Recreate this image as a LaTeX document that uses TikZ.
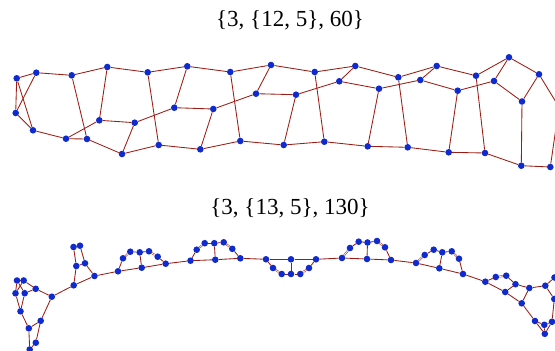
\documentclass[tikz,border=0pt]{standalone}
\usepackage{fontspec}
\setmainfont{Liberation Serif}
\usetikzlibrary{backgrounds}
\definecolor{ecol}{RGB}{155,28,18}
\definecolor{vcol}{RGB}{15,42,205}
\tikzset{
  v/.style={circle,fill=vcol,draw=none,inner sep=0pt,minimum size=6.6pt},
  e/.style={draw=ecol,line width=0.85pt},
  ee/.style={draw=ecol,line width=0.5pt,double=white,double distance=0.8pt},
  ttl/.style={font=\fontsize{23}{27}\selectfont,inner sep=0pt}
}
\begin{document}
\begin{tikzpicture}[x=1pt,y=-1pt]
\useasboundingbox (0,0) rectangle (555,351);
\clip (0,0) rectangle (555,351);
\node[ttl] (t1) at (290,20) {\{3, \{12, 5\}, 60\}};
\node[ttl] (t2) at (290,208) {\{3, \{13, 5\}, 130\}};
% top graph
\foreach \n/\x/\y in {A1/16.7/78.3,A2/36.3/72.7,A3/71.7/75.3,A4/107.3/67,A5/147.7/72.3,A6/187.3/66.3,
B1/15.7/113,B2/33/130.3,C1/66/138.7,C2/87/139,D1/99.3/120.3,D2/134.7/122.7,E1/122/154,E2/158.7/145,F1/174.3/107.7,
G2/230.3/72,G3/271/65,G4/314.7/72,G5/355.3/66,H1/213.3/109,H2/256/93.7,H3/296/94.7,H4/339.3/81.3,
I1/200.3/149.3,I2/240.3/141,I3/283.7/145,I4/324.3/141.7,I5/367.7/146.3,
J1/398.3/77.3,J2/436.7/66,J3/476/75.7,J4/509/57.3,J5/539/74.3,
K1/379/88.7,K2/420.3/80,K3/457.7/90.7,K4/494/81,K5/522/101.5,
L2/407.7/147.3,L3/448.7/152.3,L4/485/153,L5/521.3/165.7,L6/550.3/167}
  \node[v] (\n) at (\x,\y) {};
\coordinate (X) at (559,107);
% bottom graph
\foreach \n/\x/\y in {a1/73.5/247,a2/80/245.7,a3/76.3/266,a4/85/263.3,a5/94.5/276,a6/73.7/285.3,a7/51.8/296.7,
b1/17/280.5,b2/23.7/280.5,b3/15.5/293.3,b4/24.7/293.2,b5/35.7/288.8,b6/20.5/311.3,b7/40.7/320.8,b8/28.8/328.3,b9/35.8/342.7,b10/29.7/349.5,
c1/118/271.3,c2/123/258.3,c3/130.3/251.7,c4/139.7/252.3,c5/149/251.3,c6/157.7/256.7,c7/141.7/267.7,c8/165.7/263.7,c9/190.5/260.7,
d2/196.7/249.7,d3/204.7/243.2,d4/214.3/243.2,d5/223.7/242.3,d6/232.3/248.8,d7/215.3/259.7,d8/240.3/258.3,
e1/266/259.3,e2/291/259.3,e3/316/259.3,e4/273/268,e5/281.7/274,e6/291/274,e7/300.3/274,e8/309/268,
f1/342/258,f2/350/248,f3/358.7/241.7,f4/367.5/242.5,f5/367/259,g3/377/241,g4/385/247.3,g6/391/260,
h1/416/263,h2/424.7/255,h3/433.7/249.7,h4/442.3/252.3,h5/451.7/251.3,h6/459/258.7,h7/439.3/268.3,h8/463/274,
i1/485.3/281.7,i2/495.8/277,i3/506.2/275.7,i4/515.5/284.2,i5/505.2/292,i6/529.3/288,i7/545.3/285.7,i8/554.5/277.5,i9/554.3/299,
i10/521.7/303.3,i11/535/321,i12/544.3/324.8,i13/552/321.8,i14/544.8/333.8}
  \node[v] (\n) at (\x,\y) {};
\begin{pgfonlayer}{background}
\foreach \a/\b in {A1/A2,A1/B1,A1/B2,A2/B1,A2/A3,A3/A4,A4/A5,A5/A6,B1/B2,B2/C1,C1/C2,C1/D1,A3/C2,A4/D1,D1/D2,D2/E1,C2/E1,E1/E2,A5/E2,D2/F1,A6/F1,F1/H1,E2/I1,
A6/G2,G2/G3,G3/G4,G4/G5,G2/I2,G3/H2,H1/H2,H2/H3,H3/H4,H4/G5,H4/K1,H1/I1,H3/I3,G4/I4,I1/I2,I2/I3,I3/I4,I4/I5,G5/J1,
J1/J2,J2/J3,J3/J4,J4/J5,J4/K4,J5/K5,J5/X,K4/K5,K5/L5,J2/K2,K1/K2,K2/K3,K3/K4,J1/L2,K1/I5,K3/L3,J3/L4,I5/L2,L2/L3,L3/L4,L4/L5,L5/L6,L6/X,
a7/b5,a7/b7,a7/a6,a6/a3,a6/a5,a5/a4,a5/c1,a3/a4,a1/a3,a2/a4,a1/a2,
b1/b2,b1/b3,b1/b4,b2/b3,b2/b5,b4/b5,b3/b6,b4/b6,b6/b8,b8/b7,b7/b9,b8/b10,b9/b10,
c1/c2,c3/c4,c4/c5,c6/c8,c4/c7,c1/c7,c7/c8,c8/c9,
c9/d2,d3/d4,d4/d5,d6/d8,d4/d7,c9/d7,d7/d8,d8/e1,
e1/e2,e2/e3,e1/e4,e5/e6,e6/e7,e8/e3,e2/e6,e3/f1,
f2/f3,f3/f4,f1/f5,f4/f5,f4/g3,g4/g6,f5/g6,g6/h1,
h2/h3,h3/h4,h4/h5,h6/h8,h4/h7,h1/h7,h7/h8,h8/i1,
i1/i2,i3/i4,i1/i5,i4/i5,i4/i6,i6/i7,i7/i8,i7/i9,i5/i10,i6/i10,i10/i11,i11/i12,i11/i14,i12/i13,i12/i14,i13/i14,i13/i9}
  \draw[e] (\a) -- (\b);
\foreach \a/\b in {c2/c3,c5/c6,d2/d3,d5/d6,e4/e5,e7/e8,f1/f2,g3/g4,h1/h2,h5/h6,i2/i3}
  \draw[ee] (\a) -- (\b);
\end{pgfonlayer}
\end{tikzpicture}
\end{document}
